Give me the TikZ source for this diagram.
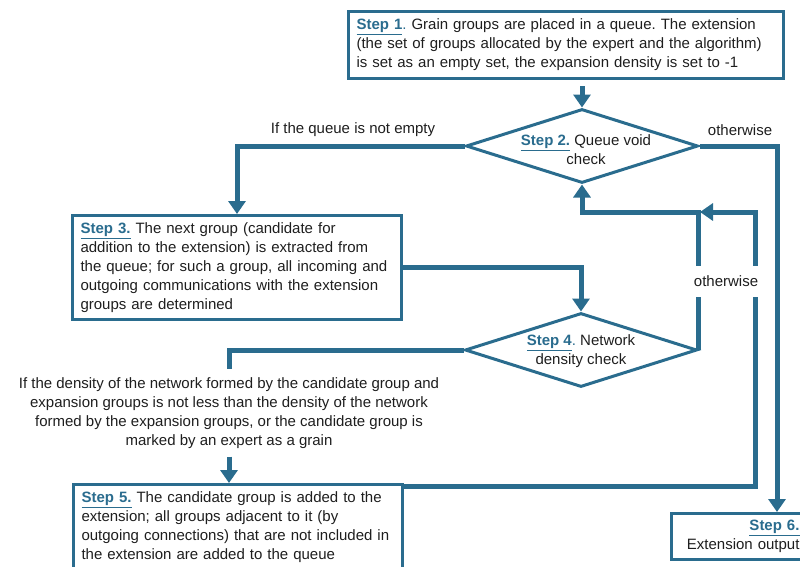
\documentclass[tikz,border=0pt]{standalone}
\usepackage{fontspec}
\setmainfont{Liberation Sans}
\usetikzlibrary{shapes.geometric,arrows.meta}
\definecolor{flowblue}{HTML}{2A6C8E}
\definecolor{ink}{HTML}{1E1E1E}
\newcommand{\steplbl}[1]{\textcolor{flowblue}{\underline{\textbf{#1}}}}
\frenchspacing

\begin{document}
\begin{tikzpicture}[x=1pt, y=-1pt, font=\fontsize{15}{19}\selectfont, text=ink,
		stepbox/.style={draw=flowblue, line width=3pt, align=left, inner xsep=8pt, inner ysep=0pt, anchor=north west},
		decision/.style={draw=flowblue, line width=3pt, diamond, minimum width=232pt, minimum height=74pt, inner sep=0pt},
		flow/.style={draw=flowblue, line width=5pt, -{Triangle[width=17pt,length=13pt]}},
		link/.style={draw=flowblue, line width=5pt}]
		\useasboundingbox (0,0) rectangle (800,566);
		\clip (0,0) rectangle (800,566);

		\node[stepbox, text width=419pt, minimum height=67pt] (s1) at (347,10)
			{\steplbl{Step 1}\textcolor{flowblue}{.} Grain groups are placed in a queue. The extension\\
			(the set of groups allocated by the expert and the algorithm)\\
			is set as an empty set, the expansion density is set to -1};
		\node[decision] (d2) at (582,146) {};
		\node[align=center] (d2txt) at (586,150) {\steplbl{Step 2.} Queue void\\check};
		\node[stepbox, text width=313pt, minimum height=104pt] (s3) at (71,214)
			{\steplbl{Step 3.} The next group (candidate for\\
			addition to the extension) is extracted from\\
			the queue; for such a group, all incoming and\\
			outgoing communications with the extension\\
			groups are determined};
		\node[decision] (d4) at (581,350) {};
		\node[align=center] (d4txt) at (581,351) {\steplbl{Step 4}\textcolor{flowblue}{.} Network\\density check};
		\node[align=center, inner ysep=8pt] (cond) at (229,413)
			{If the density of the network formed by the candidate group and\\
			expansion groups is not less than the density of the network\\
			formed by the expansion groups, or the candidate group is\\
			marked by an expert as a grain};
		\node[stepbox, text width=313pt, minimum height=85pt] (s5) at (72,483)
			{\steplbl{Step 5.} The candidate group is added to the\\
			extension; all groups adjacent to it (by\\
			outgoing connections) that are not included in\\
			the extension are added to the queue};
		\node[stepbox, align=right, text width=120pt, minimum height=46pt] (s6) at (670,512)
			{\steplbl{Step 6.}\hspace*{4pt}\\Extension output};

		\node (notempty) at (353,130) {If the queue is not empty};
		\node (other1) at (740,130) {otherwise};

		\coordinate (x6) at (777,512);
		\coordinate (join) at (700,212);
		\coordinate (loop) at (755,212);

		\draw[flow, shorten <=6pt] (d2.north |- s1.south) -- (d2.north);
		\draw[flow] (d2.west) -| (s3.north);
		\draw[flow] (d2.east) -| (x6);
		\draw[flow] (s3.east) -| (d4.north);
		\draw[link] (d4.west) -| (cond.north);
		\draw[flow] (cond.south) -- (cond.south |- s5.north);
		\draw[flow] (d4.east) -- (d4.east |- join) -| (d2.south);
		\draw[flow] ([yshift=-3pt]s5.north east) -| (loop) -- (join);

		\node[fill=white, inner xsep=2pt, inner ysep=10pt] (other2) at (726,281) {otherwise};
	\end{tikzpicture}
\end{document}
